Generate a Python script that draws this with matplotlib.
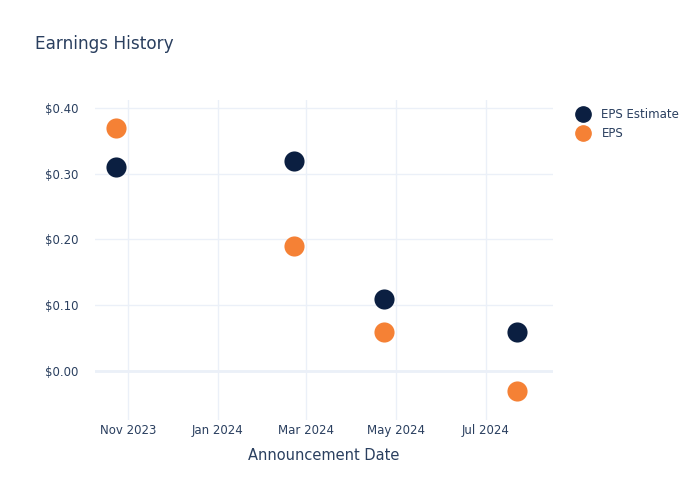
import numpy as np
import pandas as pd
import matplotlib.pyplot as plt
import matplotlib.dates as mdates
from matplotlib.lines import Line2D

dates = pd.to_datetime(["2023-10-24", "2024-02-22", "2024-04-23", "2024-07-22"])
eps_estimate = [0.31, 0.32, 0.11, 0.06]
eps_actual = [0.37, 0.19, 0.06, -0.03]

navy = "#0b1f41"
orange = "#f58135"
text_col = "#2a3f5f"
grid_col = "#ebf0f8"

fig = plt.figure(figsize=(7, 5), dpi=100)
ax = fig.add_axes([0.1357, 0.16, 0.654, 0.64])

ax.scatter(dates, eps_estimate, s=210, color=navy, zorder=3, linewidths=0)
ax.scatter(dates, eps_actual, s=210, color=orange, zorder=3, linewidths=0)

ax.set_xlim(pd.Timestamp("2023-10-09 12:00"), pd.Timestamp("2024-08-15 12:00"))
ax.set_ylim(-0.0745, 0.412)

ax.xaxis.set_major_locator(mdates.MonthLocator(bymonth=[1, 3, 5, 7, 11]))
ax.xaxis.set_major_formatter(mdates.DateFormatter("%b %Y"))
ax.set_yticks([0.0, 0.1, 0.2, 0.3, 0.4])
ax.set_yticklabels(["$0.00", "$0.10", "$0.20", "$0.30", "$0.40"])

ax.grid(True, color=grid_col, linewidth=1)
ax.axhline(0, color=grid_col, linewidth=2, zorder=1)
ax.set_axisbelow(True)
for s in ax.spines.values():
    s.set_visible(False)
ax.tick_params(length=0, colors=text_col, labelsize=8.5)
ax.tick_params(axis="x", pad=3)
ax.tick_params(axis="y", pad=12)

ax.set_xlabel("Announcement Date", color=text_col, fontsize=10.5, labelpad=8)
fig.text(0.05, 0.912, "Earnings History", color=text_col, fontsize=12.2, va="center")

handles = [
    Line2D([], [], marker="o", linestyle="", markersize=11, color=navy, label="EPS Estimate"),
    Line2D([], [], marker="o", linestyle="", markersize=11, color=orange, label="EPS"),
]
leg = fig.legend(handles=handles, loc="upper left", bbox_to_anchor=(0.807, 0.805),
                 frameon=False, fontsize=8.5, handletextpad=1.0, labelspacing=0.5,
                 handlelength=1.2)
for t in leg.get_texts():
    t.set_color(text_col)

plt.savefig("out.png", dpi=100)
